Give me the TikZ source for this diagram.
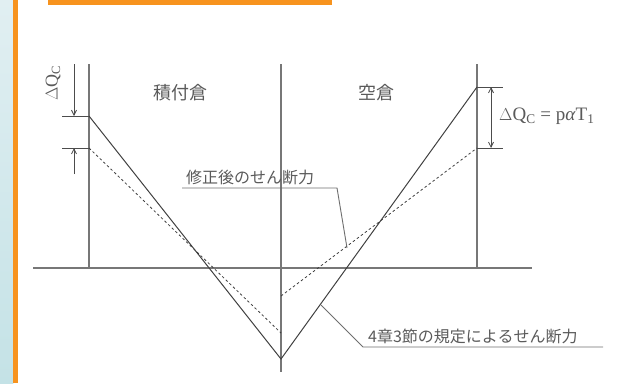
\documentclass[tikz,border=0pt]{standalone}
\usepackage{fontspec}
\setmainfont{Liberation Serif}
\newfontfamily\jp{Noto Sans CJK JP}
\usetikzlibrary{arrows.meta}
\definecolor{txtgray}{HTML}{5A5A5A}
\definecolor{lngray}{HTML}{555555}
\definecolor{orangebar}{HTML}{F7931E}
\definecolor{bluebgtop}{HTML}{E1EFF2}
\definecolor{bluebgbot}{HTML}{C4E2E6}
\tikzset{
  axisline/.style={draw=lngray!80, line width=1.1pt},
  shear/.style={draw=black!75, line width=1pt},
  shearmod/.style={draw=black!75, line width=0.8pt, dash pattern=on 2.5pt off 2.5pt},
  leader/.style={draw=lngray!85, line width=0.9pt},
  dim/.style={draw=black!70, line width=0.8pt},
  dimarrow/.style={dim, -{Straight Barb[length=5pt,width=5pt]}},
  jplabel/.style={text=txtgray, font=\jp\fontsize{16}{16}\selectfont, inner sep=0pt},
  mathlabel/.style={text=txtgray, font=\fontsize{19}{19}\selectfont, inner sep=0pt}
}
\begin{document}
\begin{tikzpicture}[x=1pt,y=-1pt]
\useasboundingbox (0,0) rectangle (620,383);
% decorations
\shade[top color=bluebgtop, bottom color=bluebgbot] (0,0) rectangle (13.3,383);
\fill[orangebar] (13.3,0) rectangle (18.3,383);
\fill[orangebar] (48,0) rectangle (332,5);
% key points
\coordinate (L0) at (89,64);
\coordinate (L1) at (89,268);
\coordinate (C0) at (281,64);
\coordinate (C1) at (281,372);
\coordinate (R0) at (477,64);
\coordinate (R1) at (477,268);
\coordinate (A0) at (33,268);
\coordinate (A1) at (532,268);
\coordinate (S1) at (89,116);
\coordinate (S2) at (281,359);
\coordinate (S3) at (477,87);
\coordinate (D1) at (89,148);
\coordinate (D2) at (281,333);
\coordinate (D3) at (281,296);
\coordinate (D4) at (477,148);
% axes
\draw[axisline] (L0) -- (L1);
\draw[axisline] (C0) -- (C1);
\draw[axisline] (R0) -- (R1);
\draw[axisline] (A0) -- (A1);
% shear lines
\draw[shear] (S1) -- (S2) -- (S3);
\draw[shearmod] (D1) -- (D2);
\draw[shearmod] (D3) -- (D4);
% left dimension
\coordinate (LT1) at (62,116);
\coordinate (LT2) at (62,148);
\draw[dim] (LT1) -- (S1);
\draw[dim] (LT2) -- (D1);
\coordinate (LA0) at (74,64);
\coordinate (LA1) at (74,116);
\coordinate (LB0) at (74,174);
\coordinate (LB1) at (74,148);
\draw[dimarrow] (LA0) -- (LA1);
\draw[dimarrow] (LB0) -- (LB1);
\node[mathlabel, rotate=90, font=\fontsize{18}{18}\selectfont] (dqleft) at (53,83) {$\Delta$Q\textsubscript{C}};
% right dimension
\coordinate (RT1) at (503,87);
\coordinate (RT2) at (503,148);
\draw[dim] (S3) -- (RT1);
\draw[dim] (D4) -- (RT2);
\coordinate (RA0) at (491,87);
\coordinate (RA1) at (491,148);
\draw[dim, {Straight Barb[length=5pt,width=5pt]}-{Straight Barb[length=5pt,width=5pt]}] (RA0) -- (RA1);
\node[mathlabel, anchor=west] (dqright) at (499,116) {$\Delta$Q\textsubscript{C} = p\textit{α}T\textsubscript{1}};
% region labels
\node[jplabel, font=\jp\fontsize{18}{18}\selectfont] (loaded) at (180,93) {積付倉};
\node[jplabel, font=\jp\fontsize{18}{18}\selectfont] (empty) at (376,93) {空倉};
% leader: modified shear
\coordinate (M0) at (182,188);
\coordinate (M1) at (337,188);
\coordinate (M2) at (347,248);
\draw[leader] (M0) -- (M1) -- (M2);
\node[jplabel, anchor=south west] (modlabel) at (186,185) {修正後のせん断力};
% leader: rule shear
\coordinate (N0) at (321,305);
\coordinate (N1) at (363,347);
\coordinate (N2) at (603,347);
\draw[leader] (N0) -- (N1) -- (N2);
\node[jplabel, anchor=south west] (rulelabel) at (368,344) {4章3節の規定によるせん断力};
\end{tikzpicture}
\end{document}
